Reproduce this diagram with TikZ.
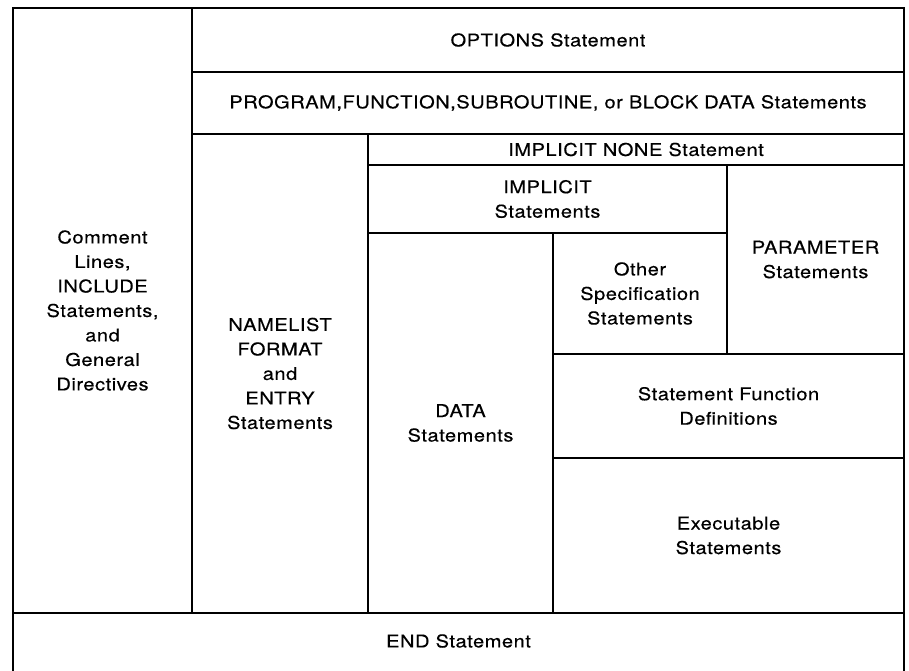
\documentclass[tikz,border=0pt]{standalone}
\usepackage{fontspec}
\setmainfont{TeX Gyre Heros}[FakeStretch=1.14, LetterSpace=3, FakeBold=0.4]
\begin{document}
\begin{tikzpicture}[x=1pt,y=-1pt,
  cell/.style={draw=black, line width=2pt, rectangle, inner sep=0pt, outer sep=0pt,
    align=center, font=\fontsize{17.6}{24.5}\selectfont, text=black},
]
\useasboundingbox (0,0) rectangle (909,670);
\clip (0,0) rectangle (909,670);
\fill[white] (0,0) rectangle (909,670);
\node[cell, minimum width=179pt, minimum height=605pt] (comment) at (102.5,310.5)
  {Comment\\Lines,\\INCLUDE\\Statements,\\and\\General\\Directives};
\node[cell, minimum width=712pt, minimum height=64pt] (options) at (548,40)
  {OPTIONS Statement};
\node[cell, minimum width=712pt, minimum height=62pt] (program) at (548,103)
  {PROGRAM,FUNCTION,SUBROUTINE, or BLOCK DATA Statements};
\node[cell, minimum width=176pt, minimum height=479pt] (namelist) at (280,373.5)
  {NAMELIST\\FORMAT\\and\\ENTRY\\Statements};
\node[cell, minimum width=536pt, minimum height=31pt] (implnone) at (636,149.5)
  {IMPLICIT NONE Statement};
\node[cell, minimum width=359pt, minimum height=68pt] (implicit) at (547.5,199)
  {IMPLICIT\\Statements};
\node[cell, minimum width=177pt, minimum height=189pt] (parameter) at (815.5,259.5)
  {PARAMETER\\Statements};
\node[cell, minimum width=185pt, minimum height=380pt] (data) at (460.5,423)
  {DATA\\Statements};
\node[cell, minimum width=174pt, minimum height=121pt] (otherspec) at (640,293.5)
  {Other\\Specification\\Statements};
\node[cell, minimum width=351pt, minimum height=104pt] (stmtfunc) at (728.5,406)
  {Statement Function\\Definitions};
\node[cell, minimum width=351pt, minimum height=155pt] (exec) at (728.5,535.5)
  {Executable\\Statements};
\node[cell, minimum width=891pt, minimum height=100pt] (endbox) at (458.5,663) {};
\node[font=\fontsize{17.6}{24.5}\selectfont, text=black] (endtext) at (458.5,641) {END Statement};
\end{tikzpicture}
\end{document}
